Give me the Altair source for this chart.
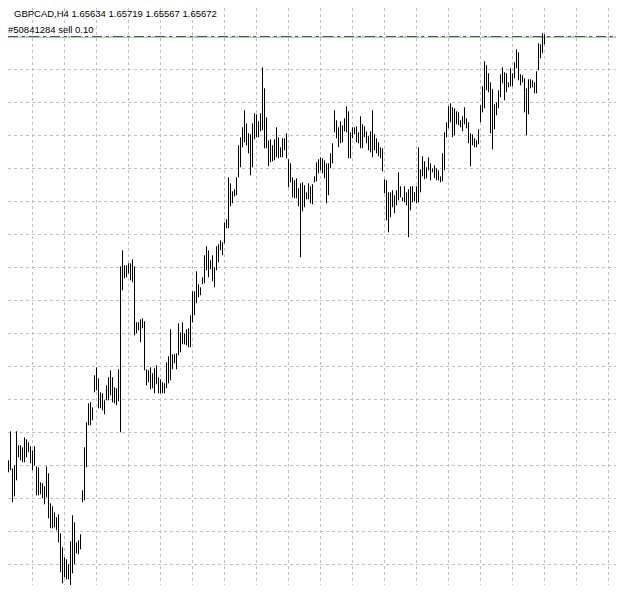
import altair as alt
import pandas as pd

# GBPCAD H4 bars: high / low prices, oldest first
highs = [1.59585, 1.59555, 1.59510, 1.59330, 1.59330, 1.59765, 1.59210, 1.59255, 1.59765, 1.59555,
         1.59555, 1.59525, 1.59675, 1.59645, 1.59600, 1.59540, 1.59480, 1.59540, 1.59240, 1.59225,
         1.59000, 1.58985, 1.58940, 1.59240, 1.59135, 1.58685, 1.58640, 1.58550, 1.58475, 1.58520,
         1.58235, 1.58025, 1.57875, 1.57845, 1.57770, 1.58115, 1.58505, 1.58400, 1.58100, 1.58130,
         1.58220, 1.58880, 1.59525, 1.59900, 1.60185, 1.60200, 1.60125, 1.60605, 1.60725, 1.60560,
         1.60350, 1.60335, 1.60230, 1.60455, 1.60575, 1.60680, 1.60575, 1.60425, 1.60410, 1.60695,
         1.62240, 1.62480, 1.62255, 1.62255, 1.62285, 1.62285, 1.62345, 1.62240, 1.61400, 1.61400,
         1.61445, 1.61460, 1.61415, 1.60695, 1.60680, 1.60725, 1.60635, 1.60710, 1.60755, 1.60575,
         1.60545, 1.60500, 1.60485, 1.60800, 1.60890, 1.61295, 1.60920, 1.60920, 1.60935, 1.61385,
         1.61250, 1.61400, 1.61235, 1.61295, 1.61310, 1.61505, 1.61865, 1.61865, 1.62165, 1.61970,
         1.61925, 1.62075, 1.62405, 1.62540, 1.62480, 1.62330, 1.62405, 1.62225, 1.62540, 1.62570,
         1.62630, 1.62600, 1.62900, 1.62945, 1.63575, 1.63485, 1.63365, 1.63395, 1.63575, 1.64055,
         1.64175, 1.64325, 1.64580, 1.64385, 1.64235, 1.64220, 1.64385, 1.64535, 1.64520, 1.64415,
         1.64535, 1.65225, 1.64910, 1.64475, 1.64130, 1.64145, 1.64055, 1.64145, 1.64325, 1.64175,
         1.64025, 1.64160, 1.64160, 1.64235, 1.63845, 1.63785, 1.63575, 1.63530, 1.63560, 1.63410,
         1.63485, 1.63500, 1.63455, 1.63350, 1.63485, 1.63440, 1.63470, 1.63590, 1.63800, 1.63845,
         1.63875, 1.63860, 1.63830, 1.63785, 1.63785, 1.63935, 1.64085, 1.64580, 1.64430, 1.64325,
         1.64415, 1.64355, 1.64460, 1.64640, 1.64565, 1.64250, 1.64325, 1.64325, 1.64340, 1.64250,
         1.64490, 1.64370, 1.64340, 1.64265, 1.64190, 1.64265, 1.64580, 1.64220, 1.64160, 1.64100,
         1.64025, 1.64010, 1.63545, 1.63530, 1.63350, 1.63350, 1.63380, 1.63305, 1.63380, 1.63650,
         1.63440, 1.63275, 1.63440, 1.63350, 1.63395, 1.63440, 1.63440, 1.63350, 1.63440, 1.64025,
         1.63695, 1.63890, 1.63815, 1.63725, 1.63875, 1.63785, 1.63710, 1.63755, 1.63710, 1.63680,
         1.63590, 1.63935, 1.64250, 1.64400, 1.64640, 1.64685, 1.64625, 1.64610, 1.64565, 1.64550,
         1.64430, 1.64490, 1.64625, 1.64460, 1.64400, 1.64235, 1.64220, 1.64160, 1.64130, 1.64295,
         1.64655, 1.64940, 1.65315, 1.65255, 1.65135, 1.65000, 1.64895, 1.64670, 1.64700, 1.64880,
         1.65120, 1.65225, 1.65150, 1.65135, 1.65000, 1.65210, 1.65135, 1.65300, 1.65495, 1.65450,
         1.65120, 1.65105, 1.65060, 1.64910, 1.65045, 1.65045, 1.65030, 1.65000, 1.65165, 1.65585,
         1.65570, 1.65735, 1.65719]
lows = [1.58910, 1.59000, 1.59105, 1.59180, 1.59150, 1.59180, 1.58700, 1.58790, 1.59030, 1.59375,
        1.59330, 1.59300, 1.59300, 1.59375, 1.59450, 1.59285, 1.59180, 1.59255, 1.58805, 1.58805,
        1.58820, 1.58760, 1.58670, 1.58775, 1.58460, 1.58310, 1.58310, 1.58325, 1.58280, 1.58100,
        1.57650, 1.57485, 1.57575, 1.57545, 1.57545, 1.57455, 1.57635, 1.57770, 1.57935, 1.57920,
        1.57995, 1.58700, 1.58730, 1.59225, 1.59855, 1.59855, 1.59930, 1.60350, 1.60380, 1.60110,
        1.60110, 1.60080, 1.60020, 1.60230, 1.60230, 1.60305, 1.60200, 1.60185, 1.60155, 1.60215,
        1.59750, 1.61880, 1.62060, 1.62075, 1.62135, 1.62030, 1.62000, 1.61205, 1.61235, 1.61280,
        1.61100, 1.61310, 1.60680, 1.60455, 1.60500, 1.60395, 1.60410, 1.60335, 1.60470, 1.60335,
        1.60335, 1.60335, 1.60335, 1.60410, 1.60485, 1.60530, 1.60695, 1.60785, 1.60695, 1.60905,
        1.60950, 1.61070, 1.61070, 1.61055, 1.61025, 1.61025, 1.61400, 1.61505, 1.61685, 1.61775,
        1.61805, 1.61970, 1.61985, 1.62180, 1.62075, 1.62195, 1.62015, 1.61925, 1.62180, 1.62300,
        1.62480, 1.62405, 1.62585, 1.62810, 1.62810, 1.63140, 1.63185, 1.63290, 1.63305, 1.63575,
        1.63725, 1.64025, 1.64100, 1.64055, 1.63935, 1.63605, 1.63725, 1.64145, 1.64175, 1.64175,
        1.64265, 1.64280, 1.64010, 1.64010, 1.63740, 1.63800, 1.63815, 1.63830, 1.63875, 1.63860,
        1.63875, 1.63875, 1.63980, 1.63860, 1.63425, 1.63500, 1.63275, 1.63260, 1.63260, 1.63140,
        1.62375, 1.63065, 1.63125, 1.63245, 1.63245, 1.63185, 1.63170, 1.63500, 1.63515, 1.63635,
        1.63680, 1.63635, 1.63560, 1.63185, 1.63305, 1.63710, 1.63785, 1.64250, 1.64160, 1.64025,
        1.64085, 1.64100, 1.64265, 1.64250, 1.63860, 1.63860, 1.64160, 1.64220, 1.64100, 1.64085,
        1.64010, 1.64010, 1.64175, 1.64085, 1.63980, 1.63950, 1.63875, 1.63980, 1.63935, 1.63890,
        1.63860, 1.63665, 1.63335, 1.62930, 1.62750, 1.62975, 1.63125, 1.63035, 1.63155, 1.63230,
        1.63275, 1.63215, 1.63200, 1.63155, 1.62675, 1.63080, 1.63200, 1.63215, 1.63185, 1.63200,
        1.63350, 1.63590, 1.63545, 1.63560, 1.63680, 1.63530, 1.63650, 1.63560, 1.63530, 1.63530,
        1.63500, 1.63515, 1.63680, 1.64175, 1.64310, 1.64400, 1.64175, 1.64205, 1.64370, 1.64355,
        1.64325, 1.64265, 1.64370, 1.64310, 1.64085, 1.63740, 1.64055, 1.64025, 1.64025, 1.64070,
        1.64400, 1.64550, 1.64610, 1.64880, 1.64850, 1.64235, 1.63995, 1.64295, 1.64505, 1.64610,
        1.64775, 1.64985, 1.64730, 1.64850, 1.64925, 1.64940, 1.64940, 1.65060, 1.65210, 1.65030,
        1.64955, 1.65000, 1.64550, 1.64205, 1.64520, 1.64910, 1.64925, 1.64835, 1.64835, 1.65180,
        1.65360, 1.65435, 1.65567]

# grid: every 16 bars, and every 0.00495 in price
vgrid_bars = [16, 32, 48, 64, 80, 96, 112, 128, 144, 160, 176, 192, 208, 224, 240, 256, 272, 288, 304]
hgrid_prices = [1.65687, 1.65192, 1.64697, 1.64202, 1.63707, 1.63212, 1.62717, 1.62222,
                1.61727, 1.61232, 1.60737, 1.60242, 1.59747, 1.59252, 1.58757, 1.58262, 1.57767]
order_price = 1.65687
bid_price = 1.65672
header_text = "GBPCAD,H4  1.65634 1.65719 1.65567 1.65672"
order_text = "#50841284 sell 0.10"

W, H = 608, 577
xs = alt.Scale(domain=[3.75, 307.75], nice=False, zero=False)
ys = alt.Scale(domain=[1.574595, 1.661145], nice=False, zero=False)

bars = pd.DataFrame({"bar": list(range(len(highs))), "high": highs, "low": lows})
vg = pd.DataFrame({"bar": vgrid_bars})
hg = pd.DataFrame({"price": hgrid_prices})
lines = pd.DataFrame({"price": [bid_price]})
orders = pd.DataFrame({"price": [order_price]})
labels = pd.DataFrame({"t": [header_text]})
olabels = pd.DataFrame({"t": [order_text]})

GRID = "#c0c0c0"

vgrid = alt.Chart(vg).mark_rule(color=GRID, strokeWidth=1, strokeDash=[3, 3]).encode(
    x=alt.X("bar:Q", scale=xs, axis=None), y=alt.value(0), y2=alt.value(H))
hgrid = alt.Chart(hg).mark_rule(color=GRID, strokeWidth=1, strokeDash=[3, 3]).encode(
    y=alt.Y("price:Q", scale=ys, axis=None), x=alt.value(0), x2=alt.value(W))
bidline = alt.Chart(lines).mark_rule(color="#c0c0c0", strokeWidth=1).encode(
    y=alt.Y("price:Q", scale=ys, axis=None), x=alt.value(0), x2=alt.value(W))
orderline = alt.Chart(orders).mark_rule(color="#1e7a1e", strokeWidth=1, strokeDash=[10, 4, 3, 4]).encode(
    y=alt.Y("price:Q", scale=ys, axis=None), x=alt.value(0), x2=alt.value(W))
ohlc = alt.Chart(bars).mark_rule(color="#000000", strokeWidth=1, opacity=1, strokeOpacity=1,
                                 clip=True).encode(
    x=alt.X("bar:Q", scale=xs, axis=None),
    y=alt.Y("high:Q", scale=ys, axis=None),
    y2="low:Q")
header = alt.Chart(labels).mark_text(align="left", baseline="alphabetic", font="Liberation Sans",
                                     fontSize=9.5, color="black").encode(
    x=alt.value(6), y=alt.value(9), text="t:N")
olabel = alt.Chart(olabels).mark_text(align="left", baseline="alphabetic", font="Liberation Sans",
                                      fontSize=9.5, color="black").encode(
    x=alt.value(0), y=alt.value(25), text="t:N")

chart = alt.layer(vgrid, hgrid, bidline, orderline, ohlc, header, olabel).properties(
    width=W, height=H,
    autosize=alt.AutoSizeParams(type="none"),
    padding=0,
    background="white",
).configure_view(stroke=None)

chart.save("out.html", embed_options={"renderer": "svg", "actions": False})
